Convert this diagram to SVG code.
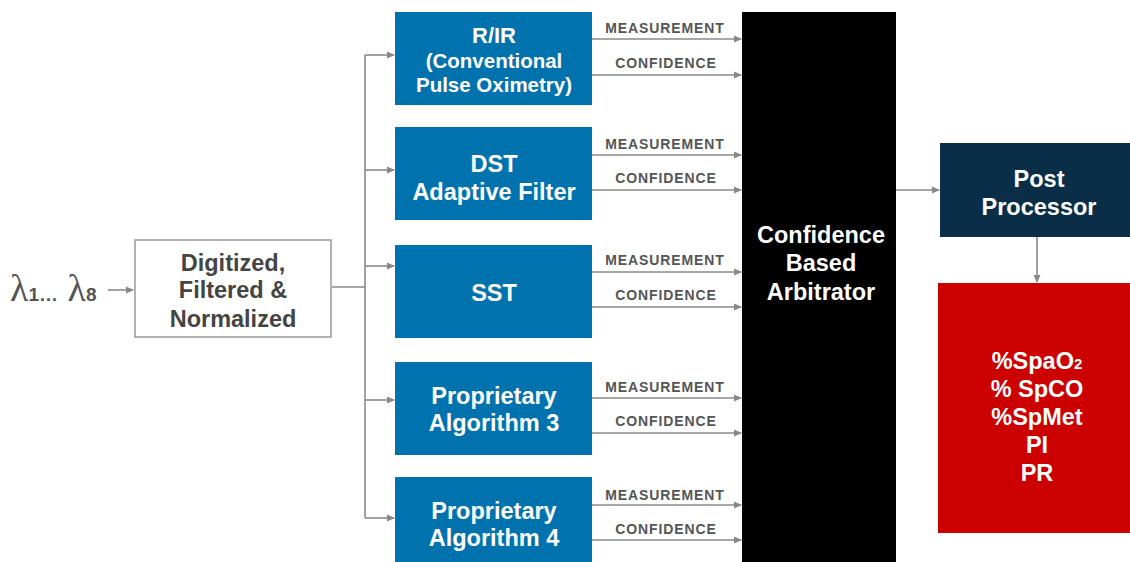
<svg xmlns="http://www.w3.org/2000/svg" width="1130" height="562" viewBox="0 0 1130 562">
<defs>
<marker id="ah" markerWidth="8" markerHeight="8" refX="7" refY="4" orient="auto" markerUnits="userSpaceOnUse">
<path d="M0,0.5 L8,4 L0,7.5 Z" fill="#888"/>
</marker>
<style>
.c{stroke:#8a8a8a;stroke-width:1.6;fill:none}
.a{marker-end:url(#ah)}
.blue{fill:#0073ae}
.w{fill:#fff;font-family:"Liberation Sans",Arial,sans-serif;font-weight:bold;text-anchor:middle}
.lbl{fill:#555;font-family:"Liberation Sans",Arial,sans-serif;font-weight:bold;font-size:14px;letter-spacing:0.9px;text-anchor:middle}
.g{fill:#444;font-family:"Liberation Sans",Arial,sans-serif;font-weight:bold;font-size:23.5px;text-anchor:middle}
</style>
</defs>
<rect width="1130" height="562" fill="#fff"/>
<g id="connectors">
<line class="c a" x1="108" y1="290" x2="133" y2="290"/>
<line class="c" x1="332" y1="287" x2="365" y2="287"/>
<line class="c" x1="365" y1="55" x2="365" y2="518"/>
<line class="c a" x1="365" y1="55" x2="394" y2="55"/>
<line class="c a" x1="365" y1="170" x2="394" y2="170"/>
<line class="c a" x1="365" y1="266" x2="394" y2="266"/>
<line class="c a" x1="365" y1="400" x2="394" y2="400"/>
<line class="c a" x1="365" y1="518" x2="394" y2="518"/>
<line class="c a" x1="592" y1="39" x2="741" y2="39"/>
<line class="c a" x1="592" y1="75" x2="741" y2="75"/>
<line class="c a" x1="592" y1="155" x2="741" y2="155"/>
<line class="c a" x1="592" y1="190" x2="741" y2="190"/>
<line class="c a" x1="592" y1="272" x2="741" y2="272"/>
<line class="c a" x1="592" y1="307" x2="741" y2="307"/>
<line class="c a" x1="592" y1="398" x2="741" y2="398"/>
<line class="c a" x1="592" y1="433" x2="741" y2="433"/>
<line class="c a" x1="592" y1="505" x2="741" y2="505"/>
<line class="c a" x1="592" y1="540" x2="741" y2="540"/>
<line class="c a" x1="896" y1="190" x2="939" y2="190"/>
<line class="c a" x1="1037" y1="237" x2="1037" y2="282"/>
<text class="lbl" x="665" y="33">MEASUREMENT</text>
<text class="lbl" x="666" y="68">CONFIDENCE</text>
<text class="lbl" x="665" y="149">MEASUREMENT</text>
<text class="lbl" x="666" y="183">CONFIDENCE</text>
<text class="lbl" x="665" y="265">MEASUREMENT</text>
<text class="lbl" x="666" y="300">CONFIDENCE</text>
<text class="lbl" x="665" y="392">MEASUREMENT</text>
<text class="lbl" x="666" y="426">CONFIDENCE</text>
<text class="lbl" x="665" y="500">MEASUREMENT</text>
<text class="lbl" x="666" y="534">CONFIDENCE</text>
</g>
<g id="input">
<text x="10" y="301" font-family="'Liberation Serif',serif" font-size="38" fill="#555">λ<tspan font-family="'Liberation Sans',sans-serif" font-size="19" font-weight="bold">1…</tspan> λ<tspan font-family="'Liberation Sans',sans-serif" font-size="19" font-weight="bold">8</tspan></text>
</g>
<g id="digitized">
<rect x="135" y="240" width="196" height="97" fill="#fff" stroke="#999" stroke-width="1.5"/>
<text class="g" x="233" y="271">Digitized,</text>
<text class="g" x="233" y="298">Filtered &amp;</text>
<text class="g" x="233" y="327">Normalized</text>
</g>
<g id="rir">
<rect class="blue" x="395" y="12" width="197" height="93"/>
<text class="w" x="494" y="43" font-size="22">R/IR</text>
<text class="w" x="494" y="68" font-size="20.5">(Conventional</text>
<text class="w" x="494" y="92" font-size="20.5">Pulse Oximetry)</text>
</g>
<g id="dst">
<rect class="blue" x="395" y="127" width="197" height="93"/>
<text class="w" x="494" y="172" font-size="23.5">DST</text>
<text class="w" x="494" y="200" font-size="23.5">Adaptive Filter</text>
</g>
<g id="sst">
<rect class="blue" x="395" y="245" width="197" height="93"/>
<text class="w" x="494" y="301" font-size="23.5">SST</text>
</g>
<g id="alg3">
<rect class="blue" x="395" y="362" width="197" height="93"/>
<text class="w" x="494" y="404" font-size="23.5">Proprietary</text>
<text class="w" x="494" y="431" font-size="23.5">Algorithm 3</text>
</g>
<g id="alg4">
<rect class="blue" x="395" y="477" width="197" height="85"/>
<text class="w" x="494" y="519" font-size="23.5">Proprietary</text>
<text class="w" x="494" y="546" font-size="23.5">Algorithm 4</text>
</g>
<g id="arbitrator">
<rect x="742" y="12" width="154" height="550" fill="#000"/>
<text class="w" x="821" y="243" font-size="23.5">Confidence</text>
<text class="w" x="821" y="271" font-size="23.5">Based</text>
<text class="w" x="821" y="300" font-size="23.5">Arbitrator</text>
</g>
<g id="post">
<rect x="940" y="143" width="190" height="94" fill="#0a2e47"/>
<text class="w" x="1039" y="187" font-size="23.5">Post</text>
<text class="w" x="1039" y="215" font-size="23.5">Processor</text>
</g>
<g id="outputs">
<rect x="938" y="283" width="192" height="250" fill="#cc0000"/>
<text class="w" x="1037" y="369" font-size="23.5">%SpaO<tspan font-size="15">2</tspan></text>
<text class="w" x="1037" y="397" font-size="23.5">% SpCO</text>
<text class="w" x="1037" y="425" font-size="23.5">%SpMet</text>
<text class="w" x="1037" y="453" font-size="23.5">PI</text>
<text class="w" x="1037" y="481" font-size="23.5">PR</text>
</g>
</svg>
